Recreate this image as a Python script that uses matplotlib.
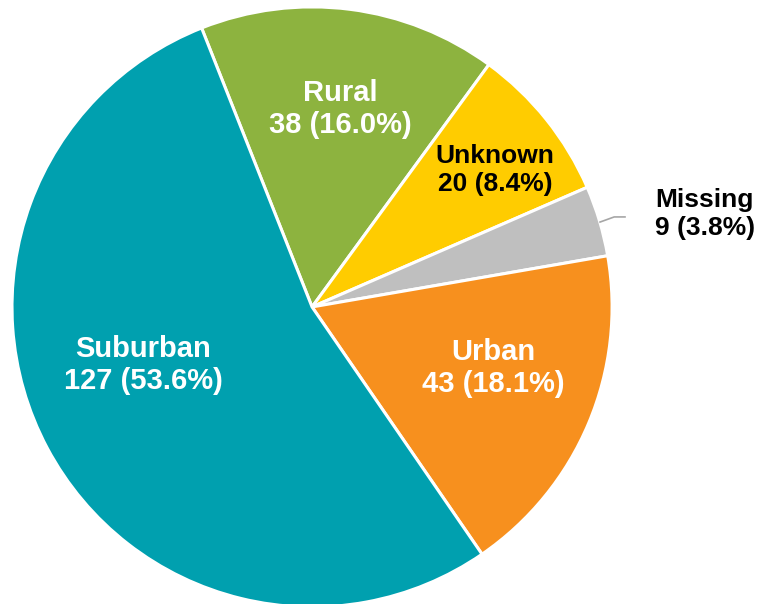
import matplotlib.pyplot as plt

# Slice data (clockwise from the top-left)
labels = ["Rural", "Unknown", "Missing", "Urban", "Suburban"]
counts = [38, 20, 9, 43, 127]
colors = ["#8DB33F", "#FFCC00", "#BFBFBF", "#F7901E", "#00A0AF"]
text_colors = ["white", "black", "black", "white", "white"]
text_sizes = [21, 19, 19, 21, 21]

# Label placement (data coords, pie radius = 1)
label_pos = [(0.093, 0.66), (0.61, 0.457), (1.143, 0.31), (0.603, -0.203), (-0.563, -0.193)]
label_ha = ["center", "center", "left", "center", "center"]

plt.rcParams["font.family"] = ["Liberation Sans", "DejaVu Sans"]

fig = plt.figure(figsize=(7.57, 6.04), dpi=100)
ax = fig.add_axes([0, 0, 1, 1])

total = sum(counts)
ax.pie(counts, colors=colors, startangle=111.6, counterclock=False,
       radius=1.0, wedgeprops=dict(edgecolor="white", linewidth=2.2))

for lab, n, (x, y), ha, tc, fs in zip(labels, counts, label_pos, label_ha, text_colors, text_sizes):
    pct = 100.0 * n / total
    ax.text(x, y, f"{lab}\n{n} ({pct:.1f}%)", ha=ha, va="center", color=tc,
            fontsize=fs, fontweight="bold", linespacing=1.2)

# leader line for the small slice
ax.plot([0.96, 1.007, 1.043], [0.283, 0.3, 0.3], color="#A6A6A6", lw=1.2)

ax.set_xlim(-1.04, 1.483)
ax.set_ylim(-0.99, 1.023)
ax.set_aspect("equal")
ax.axis("off")

fig.savefig("out.png", dpi=100)
